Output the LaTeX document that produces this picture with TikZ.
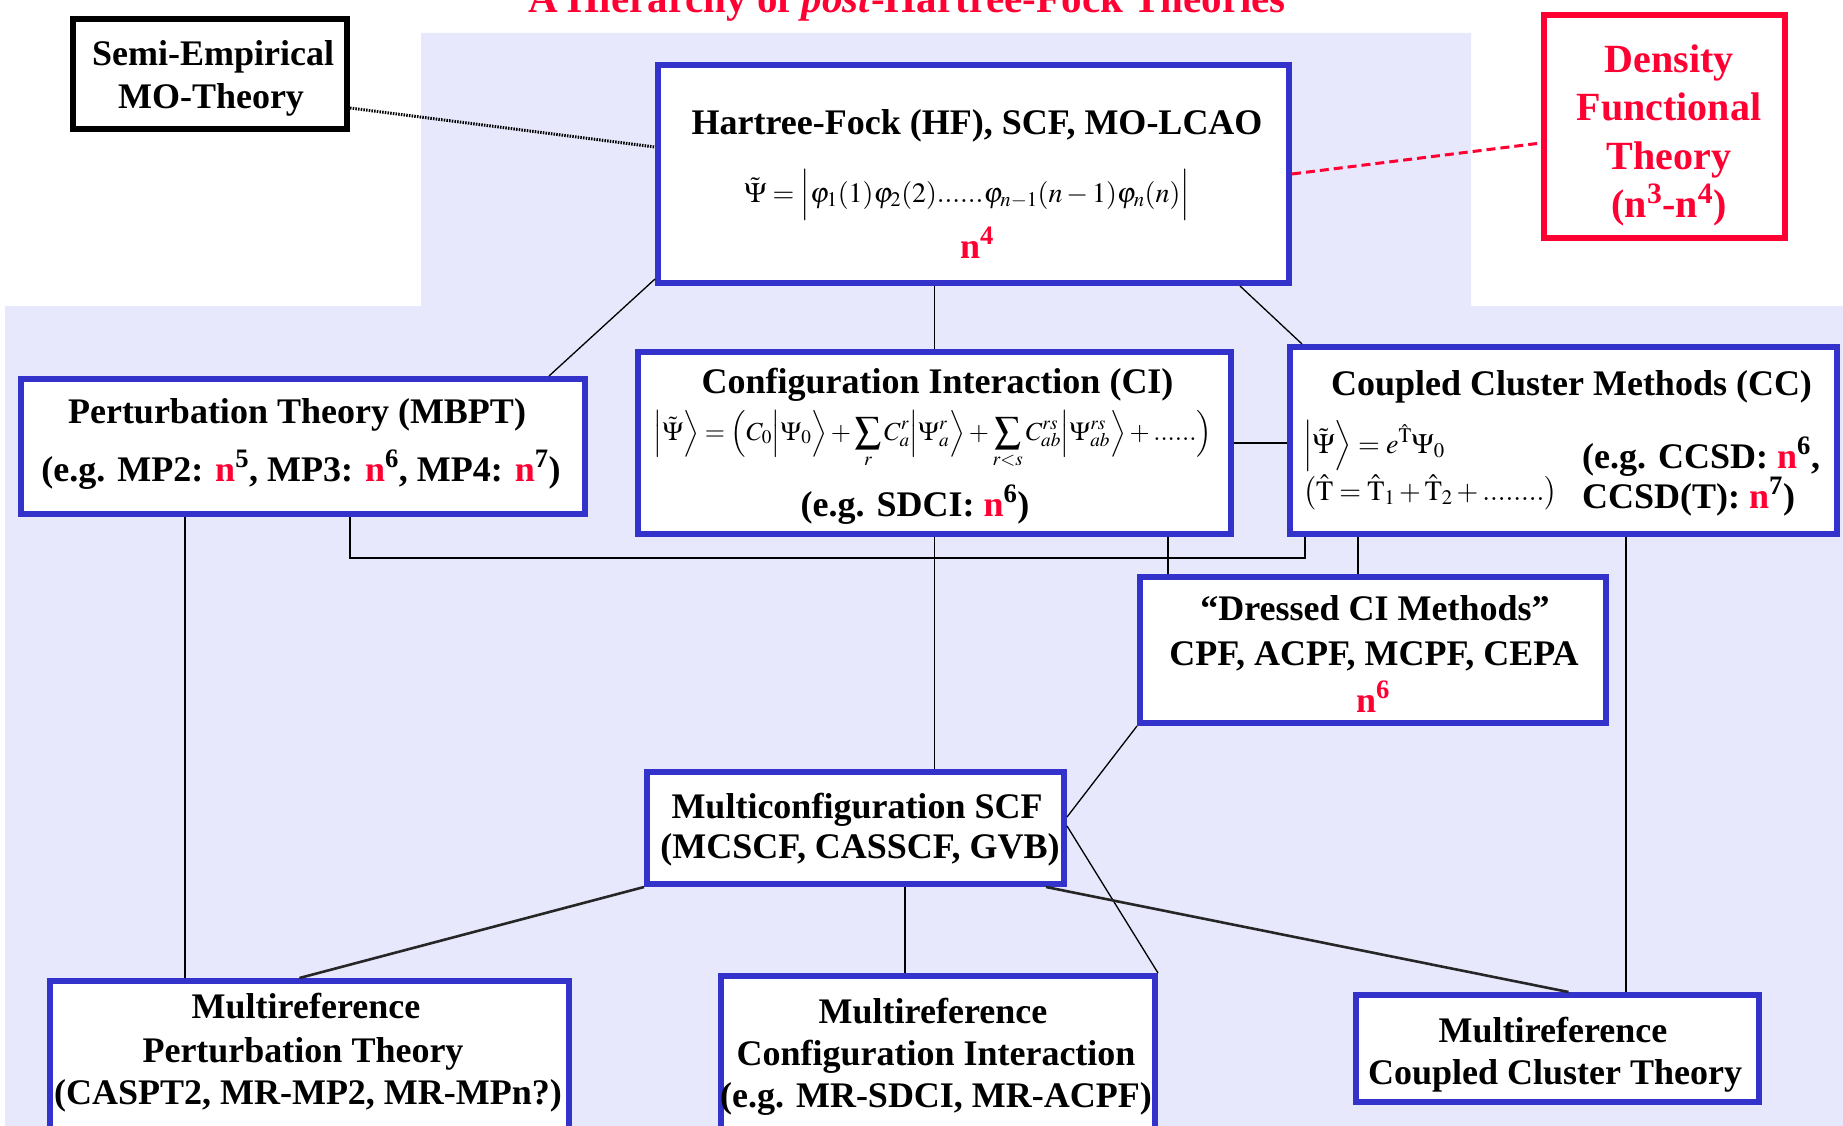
\documentclass[tikz,border=0pt]{standalone}
\usepackage{mathptmx}
\usepackage{fontspec}
\setmainfont{Liberation Serif}
\usetikzlibrary{calc}
\definecolor{lav}{RGB}{232,232,252}
\definecolor{bblue}{RGB}{51,51,204}
\definecolor{rred}{RGB}{255,0,51}
\newcommand{\rn}{\textcolor{rred}{n}}
\begin{document}
\begin{tikzpicture}[x=1pt,y=-1pt,
  box/.style={draw=bblue, line width=6pt, fill=white, inner sep=0pt},
  tx/.style={font=\fontsize{36}{43}\selectfont\bfseries, inner sep=0pt, anchor=base},
  rtx/.style={font=\fontsize{40}{48}\selectfont\bfseries, text=rred, inner sep=0pt, anchor=base},
  fm/.style={font=\fontsize{28}{34}\selectfont, inner sep=0pt, anchor=base},
  conn/.style={line width=1.3pt, black},
  thickconn/.style={line width=2.6pt, black!85},
]
\useasboundingbox (0,0) rectangle (1843,1126);
\clip (0,0) rectangle (1843,1126);
% background
\fill[lav] (421,33) -- (1471,33) -- (1471,306) -- (1843,306) -- (1843,1126)
  -- (5,1126) -- (5,306) -- (421,306) -- cycle;
% title
\node[font=\fontsize{41}{48}\selectfont\bfseries, text=rred, inner sep=0pt, anchor=base] (title) at (907,13)
  {A Hierarchy of \textit{post}-Hartree-Fock Theories};
% boxes
\node[draw=black, line width=6pt, fill=white, inner sep=0pt, minimum width=274pt, minimum height=110pt] (semi) at (210,74) {};
\node[box, minimum width=631pt, minimum height=218pt] (hf) at (973.5,174) {};
\node[draw=rred, line width=6pt, fill=white, inner sep=0pt, minimum width=241pt, minimum height=223pt] (dft) at (1664.5,126.5) {};
\node[box, minimum width=564pt, minimum height=135pt] (pt) at (303,446.5) {};
\node[box, minimum width=593pt, minimum height=182pt] (ci) at (934.5,443) {};
\node[box, minimum width=547pt, minimum height=187pt] (cc) at (1563.5,440.5) {};
\node[box, minimum width=466pt, minimum height=146pt] (dci) at (1373,650) {};
\node[box, minimum width=417pt, minimum height=112pt] (mc) at (855.5,828) {};
\node[box, minimum width=519pt, minimum height=159pt] (mrpt) at (309.5,1060.5) {};
\node[box, minimum width=434pt, minimum height=164pt] (mrci) at (938,1058) {};
\node[box, minimum width=403pt, minimum height=107pt] (mrcc) at (1557.5,1048.5) {};
% connectors
\draw[line width=3pt, dash pattern=on 1.5pt off 1.2pt] ([yshift=-34pt]semi.east) -- ([yshift=27pt]hf.west);
\draw[rred, line width=3pt, dash pattern=on 9pt off 5pt] (hf.east) -- ([yshift=-16.5pt]dft.west);
\draw[conn] ([yshift=7pt]hf.south west) -- ([xshift=-39pt]pt.north east);
\draw[conn] (ci.north |- hf.south) -- (ci.north);
\draw[conn] ([xshift=-52pt]hf.south east) -- ([xshift=15pt]cc.north west);
\draw[conn] (ci.east) -- (cc.west |- ci.east);
\draw[conn] ([xshift=167pt]pt.south west) -- ([xshift=167pt]pt.south west |- mrpt.north);
\draw[conn] ([xshift=332pt]pt.south west) -- ++(0,41) -| ([xshift=18pt]cc.south west);
\draw[conn] (ci.south) -- (ci.south |- mc.north);
\draw[conn] ([xshift=-66pt]ci.south east) -- ([xshift=-66pt]ci.south east |- dci.north);
\draw[conn] ([xshift=71pt]cc.south west) -- ([xshift=71pt]cc.south west |- dci.north);
\draw[conn] ([xshift=339pt]cc.south west) -- ([xshift=339pt]cc.south west |- mrcc.north);
\draw[conn] ([yshift=11pt]mc.east) -- (dci.south west);
\draw[conn] ([yshift=2pt]mc.east) -- (mrci.north east);
\draw[thickconn] (mc.south west) -- ([xshift=-10pt]mrpt.north);
\draw[conn] ([xshift=49.5pt]mc.south) -- ([xshift=49.5pt]mc.south |- mrci.north);
\draw[thickconn] ([xshift=-21pt]mc.south east) -- ([xshift=11pt]mrcc.north);
% texts
\node[tx] (semi1) at (213,66) {Semi-Empirical};
\node[tx] (semi2) at (211,109) {MO-Theory};
\node[tx] (hf1) at (977,135) {Hartree-Fock (HF), SCF, MO-LCAO};
\node[fm] (hf2) at (967,202) {$\tilde{\Psi} = \Bigl|\varphi_1(1)\varphi_2(2)......\varphi_{n-1}(n-1)\varphi_n(n)\Bigr|$};
\node[tx, text=rred] (hf3) at (977,258) {n\textsuperscript{4}};
\node[rtx] (dft1) at (1669,73) {Density};
\node[rtx] (dft2) at (1669,121) {Functional};
\node[rtx] (dft3) at (1669,170) {Theory};
\node[rtx] (dft4) at (1669,218) {(n\textsuperscript{3}-n\textsuperscript{4})};
\node[tx] (pt1) at (297,423) {Perturbation Theory (MBPT)};
\node[tx] (pt2) at (301,481) {(e.g. MP2: \rn\textsuperscript{5}, MP3: \rn\textsuperscript{6}, MP4: \rn\textsuperscript{7})};
\node[tx] (ci1) at (937.5,393) {Configuration Interaction (CI)};
\node[fm, font=\fontsize{26}{32}\selectfont] (ci2) at (933,440) {$\displaystyle\Bigl|\tilde{\Psi}\Bigr\rangle = \Bigl(C_0\Bigl|\Psi_0\Bigr\rangle + \sum_r C_a^r\Bigl|\Psi_a^r\Bigr\rangle + \sum_{r<s} C_{ab}^{rs}\Bigl|\Psi_{ab}^{rs}\Bigr\rangle + ......\Bigr)$};
\node[tx] (ci3) at (915,516) {(e.g. SDCI: \rn\textsuperscript{6})};
\node[tx] (cc1) at (1571.5,395) {Coupled Cluster Methods (CC)};
\node[fm, anchor=base west] (cc2) at (1303,453) {$\Bigl|\tilde{\Psi}\Bigr\rangle = e^{\hat{\mathrm{T}}}\Psi_0$};
\node[fm, anchor=base west] (cc3) at (1303,500) {$\bigl(\hat{\mathrm{T}} = \hat{\mathrm{T}}_1 + \hat{\mathrm{T}}_2 + ........\bigr)$};
\node[tx, anchor=base west] (cc4) at (1582,468) {(e.g. CCSD: \rn\textsuperscript{6},};
\node[tx, anchor=base west] (cc5) at (1582,508) {CCSD(T): \rn\textsuperscript{7})};
\node[tx] (dci1) at (1375,620) {“Dressed CI Methods”};
\node[tx] (dci2) at (1374,665) {CPF, ACPF, MCPF, CEPA};
\node[tx, text=rred] (dci3) at (1373,712) {n\textsuperscript{6}};
\node[tx] (mc1) at (857,818) {Multiconfiguration SCF};
\node[tx] (mc2) at (860,858) {(MCSCF, CASSCF, GVB)};
\node[tx] (mrpt1) at (306,1018) {Multireference};
\node[tx] (mrpt2) at (303,1062) {Perturbation Theory};
\node[tx] (mrpt3) at (308,1104) {(CASPT2, MR-MP2, MR-MPn?)};
\node[tx] (mrci1) at (933,1023) {Multireference};
\node[tx] (mrci2) at (936,1065) {Configuration Interaction};
\node[tx] (mrci3) at (936,1107) {(e.g. MR-SDCI, MR-ACPF)};
\node[tx] (mrcc1) at (1553,1042) {Multireference};
\node[tx] (mrcc2) at (1555,1084) {Coupled Cluster Theory};
\end{tikzpicture}
\end{document}
